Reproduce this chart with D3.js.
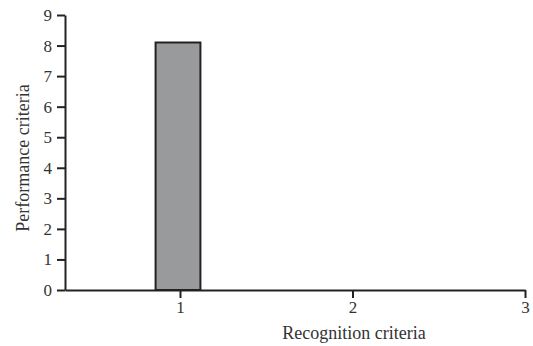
<!DOCTYPE html>
<html><head><meta charset="utf-8">
<script src="https://cdn.jsdelivr.net/npm/d3@7"></script>
<style>body{margin:0;background:#fff}svg{display:block}text{font-family:"Liberation Serif","Times New Roman",serif;fill:#333}</style>
</head><body><svg id="c" width="533" height="346"></svg>
<script>
const categories = [1];
const values = [8.1];
const xTicks = [1, 2, 3];
const yTicks = [0,1,2,3,4,5,6,7,8,9];

const svg = d3.select("#c");
const x = d3.scaleLinear().domain([1/3, 3]).range([65, 525]);
const y = d3.scaleLinear().domain([0, 9]).range([290, 15]);
const barW = x(1.13) - x(0.87);

svg.selectAll("rect.bar").data(categories).enter().append("rect")
  .attr("class","bar")
  .attr("x", d => x(d) - barW/2 - 2)
  .attr("width", barW)
  .attr("y", (d,i) => y(values[i]))
  .attr("height", (d,i) => y(0) - y(values[i]))
  .attr("fill", "#999a9b").attr("stroke", "#222").attr("stroke-width", 2);

const ya = svg.append("g").attr("transform","translate(65,0)")
  .call(d3.axisLeft(y).tickValues(yTicks).tickFormat(d3.format("d")).tickSize(8).tickSizeOuter(0).tickPadding(5));
const xa = svg.append("g").attr("transform","translate(0,290)")
  .call(d3.axisBottom(x).tickValues(xTicks).tickFormat(d3.format("d")).tickSize(8).tickSizeOuter(0).tickPadding(3));
[ya, xa].forEach(a => {
  a.selectAll("path,line").attr("stroke","#222").attr("stroke-width",2);
  a.selectAll("text").style("font-family",'"Liberation Serif",serif').style("font-size","17px").attr("fill","#333");
});

svg.append("text").attr("x", 354).attr("y", 339).attr("text-anchor","middle")
  .style("font-size","18px").text("Recognition criteria");
svg.append("text").attr("transform","translate(29,158) rotate(-90)").attr("text-anchor","middle")
  .style("font-size","18px").text("Performance criteria");
</script></body></html>
